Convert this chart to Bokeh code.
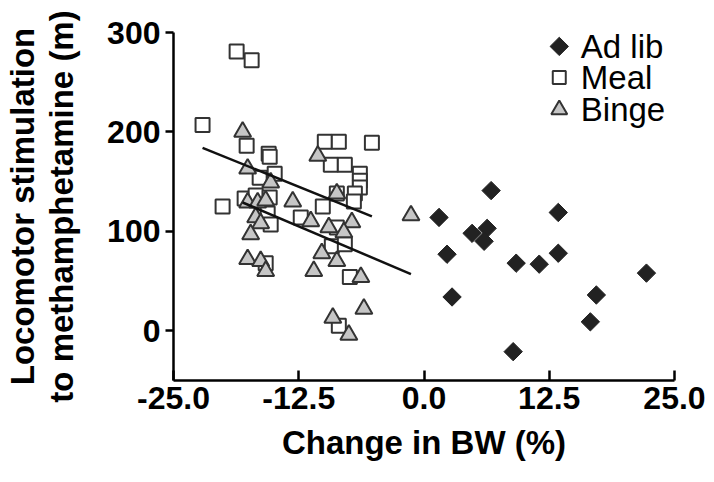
import numpy as np
from bokeh.plotting import figure
from bokeh.models import FixedTicker, Range1d, LinearAxis
from bokeh.core.properties import value
from bokeh.embed import file_html
from bokeh.resources import INLINE

# ---- data ----
adlib_x = [6.7, 1.5, 13.4, 4.8, 6.3, 6.0, 2.3, 9.2, 11.5, 13.4, 22.2, 2.8, 17.2, 16.6, 8.9]
adlib_y = [141, 114, 119, 98, 103, 90, 77, 68, 67, 78, 58, 34, 36, 9, -21]

meal_x = [-22.1, -18.7, -17.2, -20.1, -17.7, -15.5, -15.4, -9.9, -8.5, -5.2,
          -9.3, -7.9, -6.4, -6.4, -6.4, -6.9, -8.7, -7.0, -16.4, -14.9,
          -17.9, -16.8, -15.4, -10.1, -12.3, -15.6, -15.3, -8.7, -9.2, -7.9,
          -15.8, -7.4, -8.5]
meal_y = [207, 281, 272, 125, 186, 178, 175, 190, 190, 189,
          167, 167, 158, 151, 144, 138, 138, 130, 154, 158,
          133, 136, 134, 125, 114, 118, 107, 104, 85, 87,
          68, 54, 5]

binge_x = [-18.1, -17.6, -15.3, -17.6, -16.6, -15.8, -13.1, -10.6, -8.7, -16.8,
           -16.3, -17.3, -11.3, -9.5, -7.2, -8.0, -10.2, -8.7, -11.0, -6.3,
           -17.6, -16.3, -15.8, -6.0, -9.1, -7.5, -1.3]
binge_y = [200, 163, 149, 129, 129, 131, 130, 176, 138, 114,
           108, 97, 110, 104, 109, 99, 78, 70, 60, 54,
           72, 70, 60, 22, 13, -4, 116]

meal_fit_x = [-22.1, -5.2]
meal_fit_y = [184, 115]
binge_fit_x = [-18.1, -1.3]
binge_fit_y = [129, 57]

x_ticks = [-25, -12.5, 0, 12.5, 25]
x_tick_labels = ["-25.0", "-12.5", "0.0", "12.5", "25.0"]
y_ticks = [0, 100, 200, 300]

legend_labels = ["Ad lib", "Meal", "Binge"]
y_title_lines = ["Locomotor stimulation", "to methamphetamine (m)"]
x_title = "Change in BW (%)"

FONT = "Liberation Sans"
X0, X1 = -25, 25
Y0, Y1 = -50, 300

p = figure(width=706, height=474, output_backend="svg", toolbar_location=None,
           x_range=Range1d(X0, X1), y_range=Range1d(Y0, Y1),
           min_border_left=170, min_border_right=32,
           min_border_top=32, min_border_bottom=94)
p.outline_line_color = None
p.grid.visible = False
p.background_fill_color = "white"


def style_axis(ax):
    ax.axis_line_width = 2.5
    ax.axis_line_color = "black"
    ax.major_tick_line_width = 2.5
    ax.major_tick_line_color = "black"
    ax.minor_tick_line_color = None
    ax.major_label_text_font = FONT
    ax.major_label_text_font_style = "bold"
    ax.major_label_text_font_size = "32px"
    ax.major_label_text_color = "black"
    ax.axis_label_text_font = FONT
    ax.axis_label_text_font_style = "bold"
    ax.axis_label_text_font_size = "33px"
    ax.axis_label_text_color = "black"


style_axis(p.xaxis[0])
style_axis(p.yaxis[0])

p.xaxis.ticker = FixedTicker(ticks=x_ticks)
p.xaxis.major_label_overrides = {t: l for t, l in zip(x_ticks, x_tick_labels)}
p.xaxis.major_tick_in = 10
p.xaxis.major_tick_out = 0
p.xaxis.major_label_standoff = 6
p.xaxis.axis_label = x_title
p.xaxis.axis_label_standoff = 12

p.yaxis.ticker = FixedTicker(ticks=y_ticks)
p.yaxis.major_tick_in = 0
p.yaxis.major_tick_out = 8
p.yaxis.major_label_standoff = 5
p.yaxis.axis_label = y_title_lines[1]
p.yaxis.axis_label_standoff = 24

# outer axis carrying only the first line of the y title
outer = LinearAxis(ticker=FixedTicker(ticks=[]), axis_label=y_title_lines[0])
style_axis(outer)
outer.axis_line_color = None
outer.major_tick_out = 0
outer.major_tick_in = 0
outer.major_label_standoff = 0
outer.axis_label_standoff = 0
p.add_layout(outer, "left")

# markers
p.scatter(meal_x, meal_y, marker="square", size=14,
          fill_color="white", line_color="#333333", line_width=2)
p.scatter(binge_x, binge_y, marker="triangle", size=17,
          fill_color="#c6c6c6", line_color="#333333", line_width=2)
p.scatter(adlib_x, adlib_y, marker="square", angle=np.pi / 4, size=13,
          fill_color="#222222", line_color="#222222", line_width=1)

p.line(meal_fit_x, meal_fit_y, line_color="#111111", line_width=2.5)
p.line(binge_fit_x, binge_fit_y, line_color="#111111", line_width=2.5)

# manual legend (placed relative to the axis ranges)
xs = X1 - X0
ys = Y1 - Y0
lg_mx = X1 - 0.23 * xs
lg_tx = X1 - 0.187 * xs
lg_y = [Y1 - 0.04 * ys, Y1 - 0.129 * ys, Y1 - 0.222 * ys]
p.scatter([lg_mx], [lg_y[0]], marker="square", angle=np.pi / 4, size=13,
          fill_color="#222222", line_color="#222222", line_width=1)
p.scatter([lg_mx], [lg_y[1]], marker="square", size=13,
          fill_color="white", line_color="#333333", line_width=2)
p.scatter([lg_mx], [lg_y[2]], marker="triangle", size=16,
          fill_color="#c6c6c6", line_color="#333333", line_width=2)
p.text([lg_tx] * 3, lg_y, text=legend_labels, text_font=value(FONT),
       text_font_size="33px", text_baseline="middle", text_align="left",
       text_color="black")

open("out.html", "w").write(file_html(p, INLINE))
